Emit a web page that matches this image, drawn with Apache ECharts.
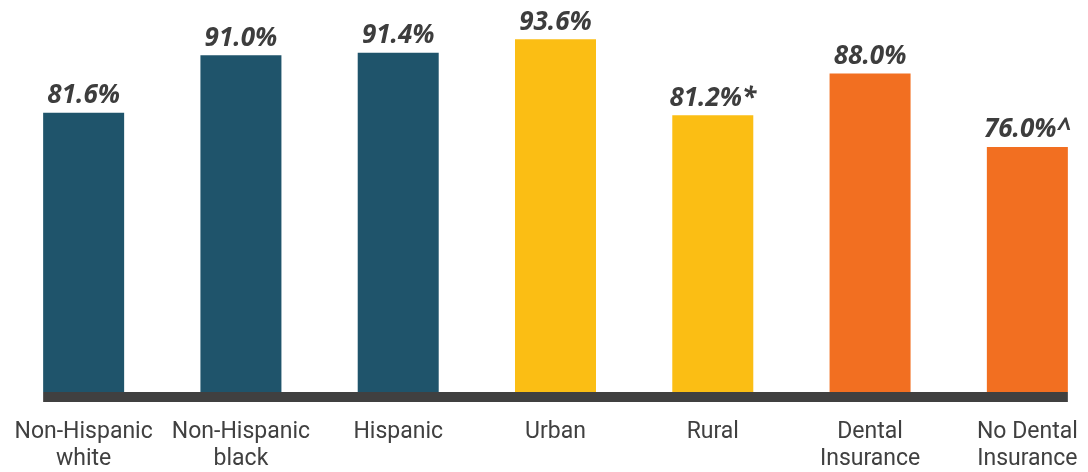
<!DOCTYPE html>
<html>
<head>
<meta charset="utf-8">
<script src="https://cdn.jsdelivr.net/npm/echarts@6/dist/echarts.min.js"></script>
<style>
  html, body { margin: 0; padding: 0; background: #fff; }
  #main { width: 1088px; height: 472px; }
</style>
</head>
<body>
<div id="main"></div>
<script>
var categories = ['Non-Hispanic\nwhite', 'Non-Hispanic\nblack', 'Hispanic', 'Urban', 'Rural', 'Dental\nInsurance', 'No Dental\nInsurance'];
var values = [81.6, 91.0, 91.4, 93.6, 81.2, 88.0, 76.0];
var notes = ['', '', '', '', '*', '', '^'];
var colors = ['#1f546b', '#1f546b', '#1f546b', '#fbbe14', '#fbbe14', '#f26f21', '#f26f21'];

var yMin = 36, yMax = 100;
var barW = 81;

var chart = echarts.init(document.getElementById('main'));

chart.setOption({
  animation: false,
  grid: { left: 5, right: -18, top: 0, bottom: 80, containLabel: false, outerBoundsMode: 'none' },
  xAxis: {
    type: 'category',
    data: categories,
    axisLine: { show: false },
    axisTick: { show: false },
    axisLabel: {
      margin: 27,
      color: '#404040',
      fontFamily: 'Roboto',
      fontSize: 23,
      lineHeight: 27,
      interval: 0,
      hideOverlap: false
    }
  },
  yAxis: {
    type: 'value',
    min: yMin,
    max: yMax,
    show: false,
    splitLine: { show: false }
  },
  series: [{
    type: 'bar',
    barWidth: barW,
    data: values.map(function (v, i) {
      return { value: v, itemStyle: { color: colors[i] } };
    }),
    label: {
      show: true,
      position: 'top',
      distance: 4,
      color: '#3d3d3d',
      fontFamily: 'Open Sans',
      fontWeight: 'bold',
      fontStyle: 'italic',
      fontSize: 26,
      formatter: function (p) {
        return p.value.toFixed(1) + '%' + notes[p.dataIndex];
      }
    }
  }]
});

// thick base line spanning from the first bar to the last bar
var x0 = chart.convertToPixel({ xAxisIndex: 0 }, 0) - barW / 2;
var x1 = chart.convertToPixel({ xAxisIndex: 0 }, categories.length - 1) + barW / 2;
var yBase = chart.convertToPixel({ yAxisIndex: 0 }, yMin);
chart.setOption({
  graphic: [{
    type: 'rect',
    shape: { x: x0, y: yBase, width: x1 - x0, height: 10 },
    style: { fill: '#404040' }
  }]
});
</script>
</body>
</html>
